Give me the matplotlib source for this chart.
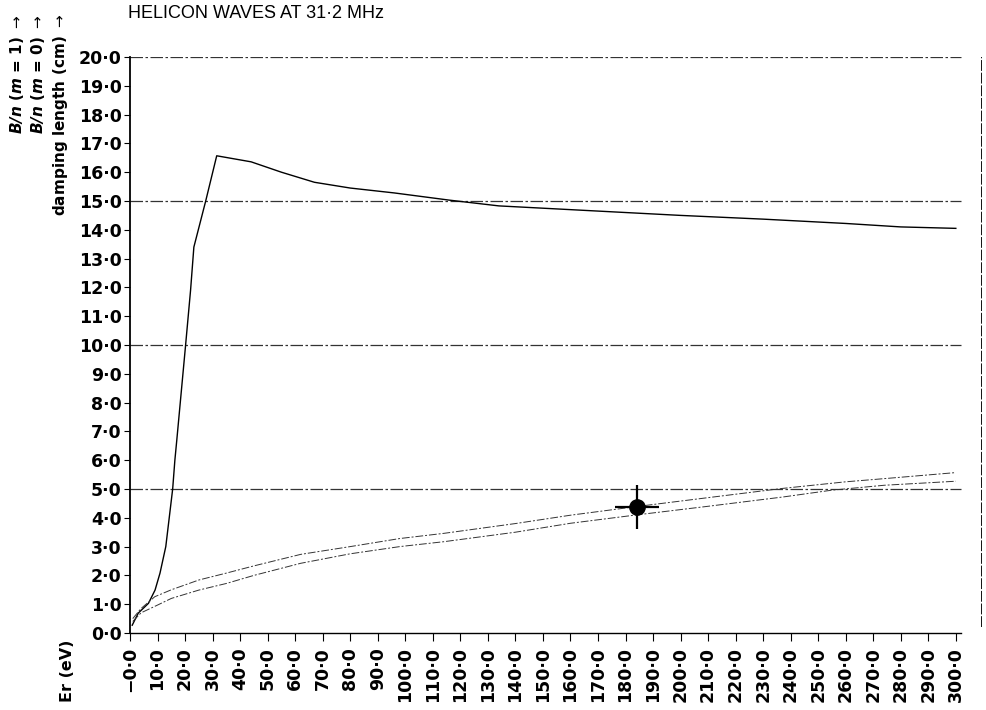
import numpy as np
import matplotlib.pyplot as plt

# damping length (cm) vs Er (eV)
damp_x = [0.8, 3.0, 6.7, 9.1, 10.9, 13.0, 14.3, 15.5, 16.3, 17.0, 20.2, 22.0, 23.2, 27.5, 31.5,
          44, 55, 67, 80, 96, 116, 134, 150, 170, 200, 230, 260, 280, 300]
damp_y = [0.27, 0.69, 1.03, 1.49, 2.08, 3.0, 4.04, 5.0, 6.0, 6.7, 10.0, 11.9, 13.4, 15.0, 16.57,
          16.36, 16.0, 15.65, 15.45, 15.28, 15.03, 14.83, 14.75, 14.65, 14.5, 14.37, 14.22, 14.1, 14.05]

# B/n (m = 1)
m1_x = [1, 4, 9, 15, 25, 35, 45, 62, 80, 98, 114, 140, 160, 184, 210, 237, 260, 274, 300]
m1_y = [0.5, 0.85, 1.26, 1.5, 1.84, 2.08, 2.33, 2.73, 3.0, 3.28, 3.46, 3.8, 4.09, 4.39, 4.7, 5.02, 5.25, 5.36, 5.57]

# B/n (m = 0)
m0_x = [1, 4, 10, 15, 25, 35, 45, 62, 80, 98, 114, 140, 160, 184, 210, 237, 255, 274, 300]
m0_y = [0.4, 0.7, 0.97, 1.2, 1.49, 1.72, 2.0, 2.42, 2.75, 3.0, 3.17, 3.5, 3.81, 4.1, 4.4, 4.72, 4.96, 5.13, 5.27]

# operating point marker
pt_x, pt_y = 184, 4.39

xticks = np.arange(0, 301, 10)
yticks = np.arange(0, 21, 1)
grid_y = [5, 10, 15, 20]

def fmt(v):
    return f"{v:.1f}".replace('.', '\u00b7')

plt.rcParams['font.family'] = 'DejaVu Sans'

fig = plt.figure(figsize=(9.86, 7.10), dpi=100)
W, H = 986, 710
ax = fig.add_axes([130/W, 77/H, 852/W, 576/H])
ax.set_xlim(0, 309.5)
ax.set_ylim(0, 20)

dashdot = (0, (10, 2, 2, 2))
ax.hlines(grid_y, 0, 302, colors='#333333', lw=0.9, linestyles=[dashdot])
ax.vlines(309.5, 0.2, 20, colors='black', lw=1.3, linestyles=[(0, (6, 1.0))])

ax.plot(damp_x, damp_y, color='black', lw=1.0)
ax.plot(m1_x, m1_y, color='#333333', lw=0.7, linestyle=(0, (8, 2, 2, 2)))
ax.plot(m0_x, m0_y, color='#333333', lw=0.7, linestyle=(0, (8, 2, 2, 2)))

ax.plot(pt_x, pt_y, 'o', color='black', ms=11)
ax.plot(pt_x, pt_y, '+', color='black', ms=32, mew=1.6)

for s in ['top', 'right']:
    ax.spines[s].set_visible(False)
ax.spines['left'].set_linewidth(1.3)
ax.spines['bottom'].set_linewidth(1.0)
ax.spines['bottom'].set_bounds(0, 302)

ax.set_yticks(yticks)
ax.set_yticklabels([fmt(v) for v in yticks], fontsize=12.5, fontweight='bold')
ax.set_xticks(xticks)
xlabels = [fmt(v) for v in xticks]
xlabels[0] = '\u2212' + xlabels[0]
ax.set_xticklabels(xlabels, rotation=90, fontsize=12.5, fontweight='bold')
ax.tick_params(axis='y', direction='out', length=4, width=0.8, pad=2)
ax.tick_params(axis='x', direction='out', length=6, width=0.8, pad=4)

fig.text(128/W, 1 - 13/H, 'HELICON WAVES AT 31\u00b72 MHz', fontsize=13,
         family='Liberation Sans', ha='left', va='center')

lab = dict(rotation=90, fontsize=11, fontweight='bold', ha='center', va='top')
fig.text(17/W, 1 - 14/H, r'$\mathbfit{B/n}$ ($\mathbfit{m}$ = 1) $\rightarrow$', **lab)
fig.text(38/W, 1 - 14/H, r'$\mathbfit{B/n}$ ($\mathbfit{m}$ = 0) $\rightarrow$', **lab)
fig.text(60/W, 1 - 14/H, r'damping length (cm) $\rightarrow$', **lab)
fig.text(67/W, 1 - 702/H, 'Er (eV)', rotation=90, fontsize=11.5, fontweight='bold',
         ha='center', va='bottom')

fig.savefig('out.png', dpi=100)
